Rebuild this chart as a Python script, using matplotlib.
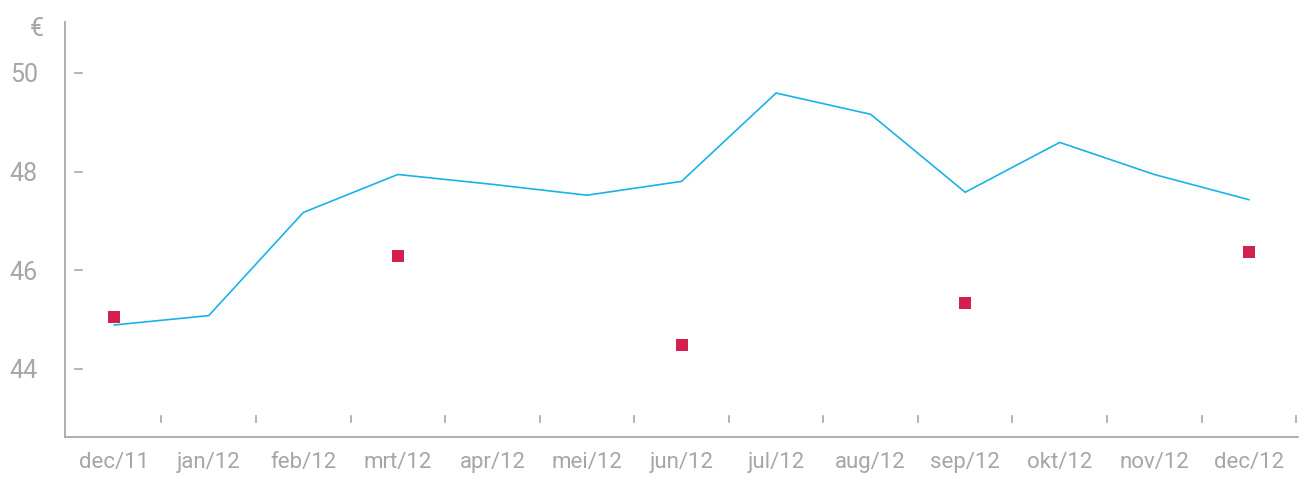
import matplotlib
matplotlib.use("Agg")
import matplotlib.pyplot as plt
import matplotlib.transforms as mtransforms
import numpy as np

categories = ["dec/11", "jan/12", "feb/12", "mrt/12", "apr/12", "mei/12", "jun/12",
              "jul/12", "aug/12", "sep/12", "okt/12", "nov/12", "dec/12"]
line_values = [44.89, 45.08, 47.17, 47.94, 47.74, 47.52, 47.80,
               49.59, 49.16, 47.58, 48.59, 47.94, 47.43]
square_idx = [0, 3, 6, 9, 12]
square_values = [45.06, 46.28, 44.49, 45.34, 46.36]
y_ticks = [44, 46, 48, 50]

GRAY = "#a6a6a6"
AXIS = "#a8a8a8"
plt.rcParams['font.family'] = ['Roboto', 'DejaVu Sans']

fig = plt.figure(figsize=(13.06, 4.82), dpi=100)
ax = fig.add_axes([65/1306, 1-437/482, (1298-65)/1306, (437-22)/482])

x = np.arange(len(categories))
ax.plot(x, line_values, color="#1ab2e8", lw=1.2, solid_joinstyle="miter")
ax.plot(square_idx, square_values, linestyle="none", marker="s", markersize=8,
        color="#d41f51", markeredgewidth=0)

ax.set_xlim(-0.52, 12.52)
ax.set_ylim(42.62, 51.03)

for s in ["top", "right"]:
    ax.spines[s].set_visible(False)
for s in ["left", "bottom"]:
    ax.spines[s].set_color(AXIS)
    ax.spines[s].set_linewidth(1.3)

ax.set_xticks(x)
ax.set_xticklabels(categories)
ax.set_yticks(y_ticks)
ax.set_yticklabels([str(v) for v in y_ticks])
ax.tick_params(axis="both", length=0, colors=GRAY)
ax.tick_params(axis="x", pad=11, labelsize=16)
ax.tick_params(axis="y", pad=19.5, labelsize=18)

# detached tick marks
tx = mtransforms.blended_transform_factory(ax.transData, ax.transAxes)
xt = np.arange(0.5, 12.51, 1.0)
for v in xt:
    ax.plot([v, v], [0.036, 0.05], transform=tx, color=AXIS, lw=1.2, clip_on=False)
ty = mtransforms.blended_transform_factory(ax.transAxes, ax.transData)
for v in y_ticks:
    ax.plot([0.0085, 0.014], [v, v], transform=ty, color=AXIS, lw=1.2, clip_on=False)

fig.text(37/1306, 1-29/482, "€", color=GRAY, fontsize=18, ha="center", va="center")

fig.savefig("out.png", dpi=100, facecolor="white")
